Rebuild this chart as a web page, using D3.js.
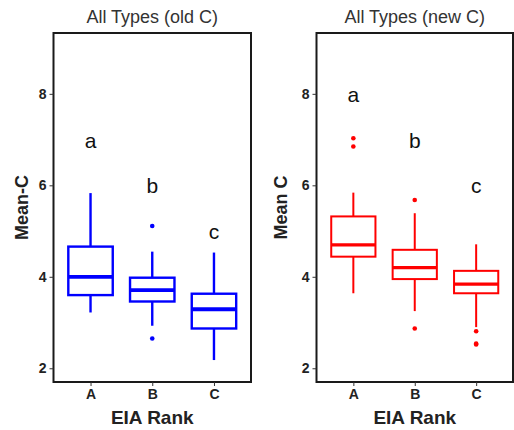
<!DOCTYPE html>
<html>
<head>
<meta charset="utf-8">
<script src="https://cdnjs.cloudflare.com/ajax/libs/d3/7.8.5/d3.min.js"></script>
<style>
  body { margin: 0; background: #fff; }
  text { font-family: "Liberation Sans", Arial, sans-serif; }
</style>
</head>
<body>
<div id="chart"></div>
<script>
var ranks = ["A", "B", "C"];
var yTicks = [2, 4, 6, 8];

// All Types (old C)
var oldLow = [3.22, 2.93, 2.18];
var oldQ1 = [3.60, 3.46, 2.87];
var oldMed = [4.00, 3.71, 3.29];
var oldQ3 = [4.66, 3.98, 3.63];
var oldHigh = [5.83, 4.55, 4.53];
var oldOut = [[], [5.11, 2.65], []];
var oldLetters = ["a", "b", "c"];
var oldLetterY = [7, 6, 5];

// All Types (new C)
var newLow = [3.64, 3.25, 2.90];
var newQ1 = [4.44, 3.95, 3.64];
var newMed = [4.70, 4.20, 3.84];
var newQ3 = [5.32, 4.59, 4.13];
var newHigh = [5.84, 5.39, 4.71];
var newOut = [[7.03, 6.85], [5.68, 2.87], [2.81, 2.54, 2.52]];
var newLetters = ["a", "b", "c"];
var newLetterY = [8, 7, 6];

var svg = d3.select("#chart")
    .append("svg")
    .attr("width", 514)
    .attr("height", 430);

var plotTop = 33, plotBottom = 382;

var y = d3.scaleLinear()
    .domain([1.70, 9.33])
    .range([plotBottom, plotTop]);

function panel(opts) {
    var x = d3.scalePoint()
        .domain(ranks)
        .range([opts.left, opts.right])
        .padding(0.6);
    var bw = x.step() * 0.72;

    var g = svg.append("g");

    // boxes
    var box = g.selectAll(".box")
        .data(ranks.map(function (r, i) {
            return { rank: r, low: opts.low[i], q1: opts.q1[i], med: opts.med[i], q3: opts.q3[i], high: opts.high[i], out: opts.out[i] };
        }))
        .enter().append("g")
        .attr("class", "box");

    box.append("line")
        .attr("x1", function (d) { return x(d.rank); })
        .attr("x2", function (d) { return x(d.rank); })
        .attr("y1", function (d) { return y(d.q3); })
        .attr("y2", function (d) { return y(d.high); })
        .attr("stroke", opts.color).attr("stroke-width", opts.sw);
    box.append("line")
        .attr("x1", function (d) { return x(d.rank); })
        .attr("x2", function (d) { return x(d.rank); })
        .attr("y1", function (d) { return y(d.q1); })
        .attr("y2", function (d) { return y(d.low); })
        .attr("stroke", opts.color).attr("stroke-width", opts.sw);
    box.append("rect")
        .attr("x", function (d) { return x(d.rank) - bw / 2; })
        .attr("y", function (d) { return y(d.q3); })
        .attr("width", bw)
        .attr("height", function (d) { return y(d.q1) - y(d.q3); })
        .attr("fill", "#fff")
        .attr("stroke", opts.color).attr("stroke-width", opts.sw);
    box.append("line")
        .attr("x1", function (d) { return x(d.rank) - bw / 2; })
        .attr("x2", function (d) { return x(d.rank) + bw / 2; })
        .attr("y1", function (d) { return y(d.med); })
        .attr("y2", function (d) { return y(d.med); })
        .attr("stroke", opts.color).attr("stroke-width", opts.sw * 1.6);
    box.selectAll("circle")
        .data(function (d) { return d.out.map(function (v) { return { rank: d.rank, v: v }; }); })
        .enter().append("circle")
        .attr("cx", function (d) { return x(d.rank); })
        .attr("cy", function (d) { return y(d.v); })
        .attr("r", 2.3)
        .attr("fill", opts.color);

    // significance letters
    g.selectAll(".letter")
        .data(ranks)
        .enter().append("text")
        .attr("x", function (d) { return x(d); })
        .attr("y", function (d, i) { return y(opts.letterY[i]); })
        .attr("dy", "0.38em")
        .attr("text-anchor", "middle")
        .style("font-size", "21px")
        .attr("fill", "#111")
        .text(function (d, i) { return opts.letters[i]; });

    // panel border
    g.append("rect")
        .attr("x", opts.left).attr("y", plotTop)
        .attr("width", opts.right - opts.left)
        .attr("height", plotBottom - plotTop)
        .attr("fill", "none")
        .attr("stroke", "#1a1a1a")
        .attr("stroke-width", 2);

    // y axis
    var yAxis = g.append("g")
        .attr("transform", "translate(" + opts.left + ",0)")
        .call(d3.axisLeft(y).tickValues(yTicks).tickSize(4).tickPadding(3));
    yAxis.select(".domain").remove();
    yAxis.selectAll("line").attr("stroke", "#333");
    yAxis.selectAll("text")
        .style("font-size", "14px").style("font-weight", "bold")
        .attr("fill", "#222")
        .style("font-family", "'Liberation Sans', Arial, sans-serif");

    // x axis
    var xAxis = g.append("g")
        .attr("transform", "translate(0," + plotBottom + ")")
        .call(d3.axisBottom(x).tickSize(4).tickPadding(3));
    xAxis.select(".domain").remove();
    xAxis.selectAll("line").attr("stroke", "#333");
    xAxis.selectAll("text")
        .style("font-size", "14px").style("font-weight", "bold")
        .attr("fill", "#222")
        .style("font-family", "'Liberation Sans', Arial, sans-serif");

    // titles
    var cx = (opts.left + opts.right) / 2;
    g.append("text")
        .attr("x", cx).attr("y", 23)
        .attr("text-anchor", "middle")
        .style("font-size", "18px")
        .attr("fill", "#333")
        .text(opts.title);
    g.append("text")
        .attr("x", cx).attr("y", 424)
        .attr("text-anchor", "middle")
        .style("font-size", "19px").style("font-weight", "bold")
        .attr("fill", "#222")
        .text("EIA Rank");
    g.append("text")
        .attr("transform", "translate(" + opts.ytitleX + "," + (plotTop + plotBottom) / 2 + ") rotate(-90)")
        .attr("text-anchor", "middle")
        .style("font-size", "18px").style("font-weight", "bold")
        .attr("fill", "#222")
        .text(opts.ytitle);
}

panel({
    left: 53.5, right: 251, color: "#0000ff", sw: 2.4,
    low: oldLow, q1: oldQ1, med: oldMed, q3: oldQ3, high: oldHigh, out: oldOut,
    letters: oldLetters, letterY: oldLetterY,
    title: "All Types (old C)", ytitle: "Mean-C", ytitleX: 28
});

panel({
    left: 316.5, right: 513, color: "#ff0000", sw: 2,
    low: newLow, q1: newQ1, med: newMed, q3: newQ3, high: newHigh, out: newOut,
    letters: newLetters, letterY: newLetterY,
    title: "All Types (new C)", ytitle: "Mean C", ytitleX: 287
});
</script>
</body>
</html>
